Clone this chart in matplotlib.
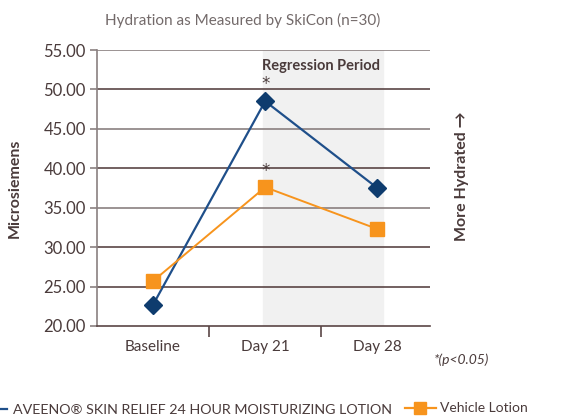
import matplotlib
matplotlib.use("Agg")
import matplotlib.pyplot as plt
from matplotlib.lines import Line2D

categories = ["Baseline", "Day 21", "Day 28"]
aveeno = [22.7, 48.5, 37.5]
vehicle = [25.7, 37.6, 32.3]
yticks = [20, 25, 30, 35, 40, 45, 50, 55]
series_names = ["AVEENO\u00ae SKIN RELIEF 24 HOUR MOISTURIZING LOTION", "Vehicle Lotion"]

TXT = "#4a3b3b"
BLUE_LINE = "#1f4f8a"
BLUE_MK = "#0e3c6e"
ORANGE = "#f7941d"
GRID_DARK = "#5a4545"
GRID_LIGHT = "#8a8080"

plt.rcParams['font.family'] = ['Lato', 'DejaVu Sans']

fig = plt.figure(figsize=(5.66, 4.17), dpi=100)
ax = fig.add_axes([97/566, 1-326/417, (430-97)/566, (326-50)/417])

x = list(range(len(categories)))
ax.set_xlim(-0.5, 2.47)
ax.set_ylim(20, 55)

ax.axvspan(0.98, 2.05, color="#f1f1f1", zorder=0)

for t in yticks[1:]:
    c = GRID_DARK if (t % 10 == 0 or t == 25) else GRID_LIGHT
    ax.axhline(t, color=c, lw=1.2, zorder=1)

ax.plot(x, aveeno, color=BLUE_LINE, lw=1.6, marker="D", ms=9, mfc=BLUE_MK, mec=BLUE_MK, zorder=3)
ax.plot(x, vehicle, color=ORANGE, lw=1.4, marker="s", ms=10, mfc=ORANGE, mec=ORANGE, zorder=3)

ax.text(1, aveeno[1] + 2.2, "*", ha="center", va="center", fontsize=12, color=TXT, family="DejaVu Sans")
ax.text(1, vehicle[1] + 2.0, "*", ha="center", va="center", fontsize=12, color=TXT, family="DejaVu Sans")
ax.text(1.5, 53.0, "Regression Period", ha="center", va="center", fontsize=10.5, fontweight="bold", color=TXT)

for s in ["top", "right"]:
    ax.spines[s].set_visible(False)
ax.spines["left"].set_color(GRID_LIGHT)
ax.spines["left"].set_linewidth(1.2)
ax.spines["bottom"].set_color(GRID_DARK)
ax.spines["bottom"].set_linewidth(1.2)

ax.set_yticks(yticks)
ax.set_yticklabels([f"{t:.2f}" for t in yticks], fontsize=12, color=TXT)
ax.tick_params(axis="y", length=5, width=1.2, color=GRID_LIGHT, pad=3)

ax.set_xticks([0.5, 1.5])
ax.set_xticks(x, minor=True)
ax.set_xticklabels([])
ax.set_xticklabels(categories, minor=True, fontsize=11, color=TXT)
ax.tick_params(axis="x", which="major", length=8, width=1.2, color=GRID_DARK)
ax.tick_params(axis="x", which="minor", length=0, pad=10)

ax.set_ylabel("Microsiemens", fontsize=11.5, fontweight="bold", color=TXT)
ax.yaxis.set_label_coords(-0.225, 0.5)

fig.text(243/566, 1-20/417, "Hydration as Measured by SkiCon (n=30)", ha="center", va="center",
         fontsize=11, fontweight="normal", color="#736a6a")
fig.text(462/566, 1-176/417, "More Hydrated \u2192", rotation=90, ha="center", va="center",
         fontsize=11.5, fontweight="bold", color=TXT)
fig.text(462/566, 1-360/417, "*(p<0.05)", ha="center", va="center", fontsize=10,
         style="italic", color=TXT)

# bottom legend
fig.add_artist(Line2D([0/566, 7/566], [1-409/417, 1-409/417], color=BLUE_LINE, lw=1.6))
fig.text(13/566, 1-409.5/417, series_names[0], ha="left", va="center", fontsize=10.3, color=TXT)
fig.add_artist(Line2D([405/566, 436/566], [1-408/417, 1-408/417], color=ORANGE, lw=1.6))
fig.add_artist(Line2D([420/566], [1-408/417], color=ORANGE, marker="s", ms=9, mec=ORANGE))
fig.text(440/566, 1-408/417, series_names[1], ha="left", va="center", fontsize=10, color=TXT)

fig.savefig("out.png", dpi=100)
